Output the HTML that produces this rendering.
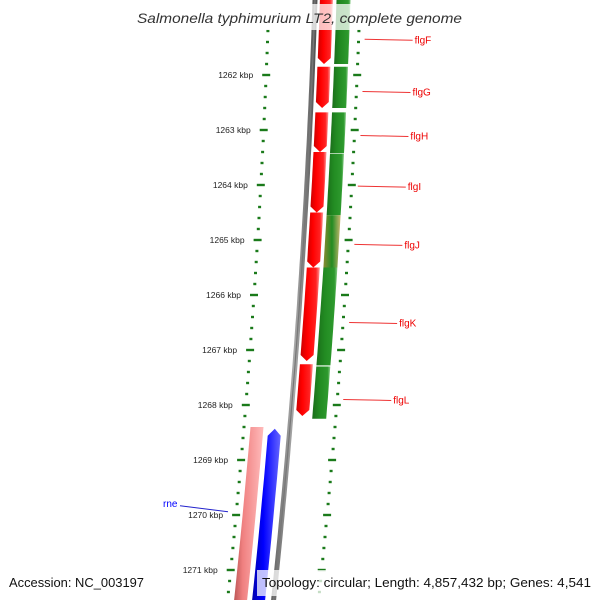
<!DOCTYPE html>
<html><head><meta charset="utf-8"><style>
body{margin:0;background:#fff}
svg{display:block;font-family:"Liberation Sans","DejaVu Sans",sans-serif}
</style></head><body>
<svg id="c" width="600" height="600" viewBox="0 0 600 600">
<defs>
<linearGradient id="gr" x1="0" x2="1"><stop offset="0" stop-color="#c00"/><stop offset="0.35" stop-color="#f00"/><stop offset="0.8" stop-color="#f22"/><stop offset="1" stop-color="#f99"/></linearGradient>
<linearGradient id="gg" x1="0" x2="1"><stop offset="0" stop-color="#1a6e1a"/><stop offset="0.4" stop-color="#228b22"/><stop offset="0.85" stop-color="#2e9a2e"/><stop offset="1" stop-color="#8c8"/></linearGradient>
<linearGradient id="gy" x1="0" x2="1"><stop offset="0" stop-color="#8a8a30"/><stop offset="0.5" stop-color="#228b22"/><stop offset="1" stop-color="#c8b870"/></linearGradient>
<linearGradient id="gp" x1="0" x2="1"><stop offset="0" stop-color="#b55"/><stop offset="0.3" stop-color="#f08080"/><stop offset="1" stop-color="#fbb"/></linearGradient>
<linearGradient id="gb" x1="0" x2="1"><stop offset="0" stop-color="#00a"/><stop offset="0.4" stop-color="#00f"/><stop offset="1" stop-color="#66f"/></linearGradient>
<linearGradient id="gk" x1="0" x2="1"><stop offset="0" stop-color="#666"/><stop offset="0.5" stop-color="#aaa"/><stop offset="1" stop-color="#555"/></linearGradient>
</defs>
<g id="layer"></g>
</svg>
<script>
// kbp position data
const tickKbp=[1262,1263,1264,1265,1266,1267,1268,1269,1270,1271];
const tickLabels=["1262 kbp","1263 kbp","1264 kbp","1265 kbp","1266 kbp","1267 kbp","1268 kbp","1269 kbp","1270 kbp","1271 kbp"];
const redStarts=[1260.5,1261.85,1262.68,1263.4,1264.5,1265.5,1267.26];
const redEnds=[1261.8,1262.6,1263.4,1264.5,1265.5,1267.2,1268.2];
const greenStarts=[1260.5,1261.85,1262.68,1263.43,1264.55,1265.5,1267.3];
const greenEnds=[1261.8,1262.6,1263.42,1264.55,1265.5,1267.28,1268.25];
const greenKinds=["g","g","g","g","y","g","g"];
const geneNames=["flgF","flgG","flgH","flgI","flgJ","flgK","flgL"];
const geneLabelKbp=[1261.35,1262.3,1263.1,1264.02,1265.08,1266.5,1267.9];
const pinkRange=[1268.4,1271.6];
const blueRange=[1268.43,1271.6];
const rneKbp=1269.85;

const S=document.getElementById('layer'),NS="http://www.w3.org/2000/svg";
const yOf=k=>75+(k-1262)*55;
const X=(x0,y)=>x0-0.033*y-6e-5*y*y;
function mk(t,a,name){const e=document.createElementNS(NS,t);for(const k in a)e.setAttribute(k,a[k]);


S.appendChild(e);return e;}
function band(x0,w,y1,y2,fill,name,arrow){
 y1=Math.max(y1,-5);y2=Math.min(y2,605);
 const n=8,L=[],R=[];let ye=arrow==='down'?y2-6:y2, ys=arrow==='up'?y1+7:y1;
 for(let i=0;i<=n;i++){const y=ys+(ye-ys)*i/n;L.push([X(x0,y)-w/2,y]);R.push([X(x0,y)+w/2,y]);}
 let pts=[...L];
 if(arrow==='down')pts.push([X(x0,y2),y2]);
 pts=pts.concat(R.reverse());
 if(arrow==='up')pts.push([X(x0,y1),y1]);
 mk('polygon',{points:pts.map(p=>p.map(v=>v.toFixed(1)).join(',')).join(' '),fill:fill},name);
}
// backbone
(function(){let d="";for(let y=-5;y<=605;y+=10)d+=(y<0?"M":"L")+X(315,y).toFixed(1)+","+y;
mk('path',{d:d,stroke:'url(#gk)',fill:'none','stroke-width':5},'backbone');
mk('path',{d:d,stroke:'#777','stroke-width':1.2,fill:'none'},'backbone-edge');})();
// ticks
function ticks(x0,name){for(let k=1260;k<=1272;k+=0.2){const y=yOf(k);if(y<25||y>600)continue;
 const major=Math.abs(k-Math.round(k))<0.01;const x=X(x0,y);
 mk('rect',{x:(x-(major?4:1.5)).toFixed(1),y:(y-1.2).toFixed(1),width:major?8:3,height:2.4,fill:'#1a7a1a'},name+(major?'-major':'-minor'));}}
ticks(269,'left-tick');ticks(360,'right-tick');
tickKbp.forEach((k,i)=>{const y=yOf(k);mk('text',{x:X(269,y)-13,y:y+3,'font-size':8.5,fill:'#222','text-anchor':'end'},'tick-label').textContent=tickLabels[i];});
// genes
redStarts.forEach((s,i)=>band(326.4,13,yOf(s),yOf(redEnds[i]),'url(#gr)','red-gene-'+geneNames[i],'down'));
greenStarts.forEach((s,i)=>band(343.5,14,yOf(s),yOf(greenEnds[i]),greenKinds[i]==='y'?'url(#gy)':'url(#gg)','green-gene-'+geneNames[i],null));
band(282,13,yOf(pinkRange[0]),yOf(pinkRange[1]),'url(#gp)','pink-gene',null);
band(300,13,yOf(blueRange[0]),yOf(blueRange[1]),'url(#gb)','blue-gene-rne','up');
// labels
geneNames.forEach((n,i)=>{const y=yOf(geneLabelKbp[i]);const x1=X(360,y)+6,tx=X(412,y)+4;
 mk('line',{x1:x1,y1:y,x2:tx-2,y2:y+1,stroke:'#e33','stroke-width':1},'label-line-'+n);
 mk('text',{x:tx,y:y+4,'font-size':10,fill:'#e00'},'gene-label-'+n).textContent=n;});
(function(){const y=yOf(rneKbp);mk('line',{x1:180,y1:y-1,x2:228,y2:y+5,stroke:'#22c','stroke-width':1},'label-line-rne');
mk('text',{x:163,y:y,'font-size':10,fill:'#00f'},'gene-label-rne').textContent='rne';})();
// title & footer
mk('rect',{x:130,y:4,width:340,height:26,fill:'#fff','fill-opacity':0.75},'title-bg');
mk('text',{x:137,y:23,'font-size':14,'font-style':'italic',fill:'#333',textLength:325,lengthAdjust:'spacingAndGlyphs'},'chart-title').textContent='Salmonella typhimurium LT2, complete genome';
mk('text',{x:9,y:587,'font-size':12.5,fill:'#111',textLength:135,lengthAdjust:'spacingAndGlyphs'},'accession-label').textContent='Accession: NC_003197';
mk('rect',{x:257,y:570,width:343,height:26,fill:'#fff','fill-opacity':0.75},'footer-bg');
mk('text',{x:262,y:587,'font-size':12.5,fill:'#111',textLength:329,lengthAdjust:'spacingAndGlyphs'},'topology-label').textContent='Topology: circular; Length: 4,857,432 bp; Genes: 4,541';
</script>
</body></html>
